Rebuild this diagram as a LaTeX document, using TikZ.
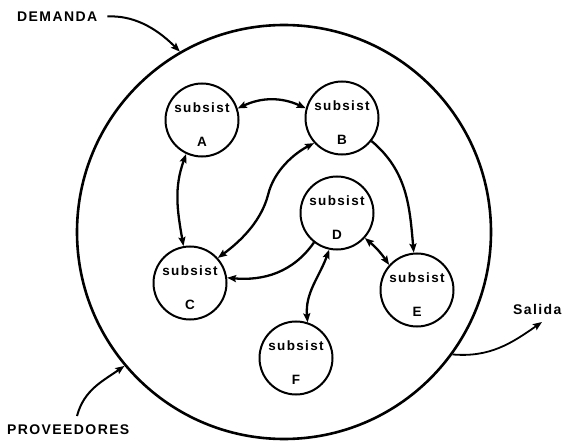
\documentclass[tikz,border=0pt]{standalone}
\usepackage{fontspec}
\setmainfont{Liberation Sans}
\newfontfamily\hand[LetterSpace=10]{Liberation Sans}
\usetikzlibrary{arrows.meta,calc}
\begin{document}
\begin{tikzpicture}[x=1pt,y=-1pt,
  big/.style={draw, circle, line width=2.6pt, minimum size=414pt, inner sep=0pt},
  sub/.style={draw, circle, line width=2pt, minimum size=73pt, inner sep=0pt},
  txt/.style={font=\hand\bfseries\fontsize{13.5}{15}\selectfont, inner sep=0pt},
  lbl/.style={font=\hand\bfseries\fontsize{14}{16}\selectfont, inner sep=0pt, anchor=west},
  tip/.style={-{Stealth[length=9pt,width=7pt,inset=1.5pt]}},
  dbl/.style={{Stealth[length=9pt,width=7pt,inset=1.5pt]}-{Stealth[length=9pt,width=7pt,inset=1.5pt]}},
  con/.style={line width=2.3pt}]
\useasboundingbox (0,0) rectangle (568,441);
% big system circle
\node[big] (sys) at (284,232) {};
% subsystems
\node[sub] (A) at (202,120) {};
\node[sub] (B) at (342,118) {};
\node[sub] (C) at (190,283) {};
\node[sub] (D) at (337,213) {};
\node[sub] (E) at (417,290) {};
\node[sub] (F) at (296,358) {};
\foreach \n in {A,B,C,D,E,F}{
  \node[txt] (\n s) at ($(\n)+(0,-12)$) {subsist};
  \node[txt] (\n l) at ($(\n)+(0,22)$) {\n};
}
% outside labels
\node[lbl] (dem) at (17,17) {DEMANDA};
\node[lbl] (prov) at (7,430) {PROVEEDORES};
\node[lbl] (sal) at (513,309) {Salida};
\coordinate (provstart) at (77,416);
\coordinate (saltip) at (542,322);
% outside arrows
\draw[con, line width=2pt, tip, shorten <=10pt] (dem.east) to[out=3, in=135] (sys.120);
\draw[con, line width=2pt, tip] (provstart) to[out=75, in=215] (sys.220);
\draw[con, line width=1.8pt, tip] (sys.-36) to[out=-5, in=215] (saltip);
% inner connectors
\draw[con, dbl] (A.18) to[bend left=25] (B.165);
\draw[con, dbl] (A.245) to[out=250, in=100] (C.100);
\draw[con, dbl] (C.42) .. controls (245,238) and (262,218) .. (268,195)
   .. controls (274,170) and (295,153) .. (B.222);
\draw[con, tip] (D.232) to[out=235, in=-5] (C.8);
\draw[con, tip] (B.-38) to[out=-40, in=95] (E.95);
\draw[con, dbl] (D.-42) to[bend left=8] (E.138);
\draw[con, dbl] (D.258) to[out=250, in=95] (F.72);
\end{tikzpicture}
\end{document}
